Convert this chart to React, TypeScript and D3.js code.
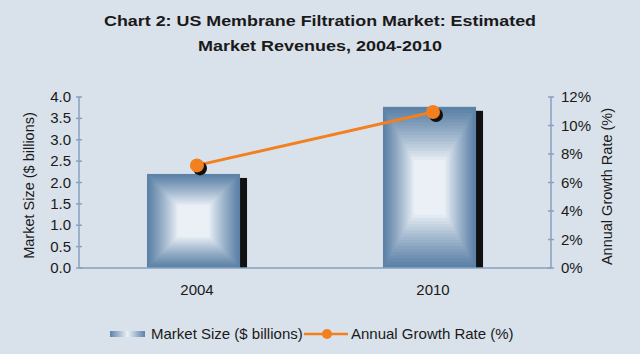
import React from 'react'
import * as d3 from 'd3'

const W = 640
const H = 354
const YEARS = ['2004', '2010']
const MARKET_SIZE = [2.2, 3.77]
const GROWTH_RATE = [7.2, 10.95]
const LEFT_TICKS = [0, 0.5, 1, 1.5, 2, 2.5, 3, 3.5, 4]
const RIGHT_TICKS = [0, 2, 4, 6, 8, 10, 12]

const BG = '#d9e1ea'
const AXIS = '#86a1c1'
const ORANGE = '#f2801f'
const EDGE = '#5d82a7'
const CENTER = '#eaf0f6'
const TEXT = '#1a1a1a'
const FONT = 'Liberation Sans, Arial, sans-serif'

const PLOT = { left: 79, right: 551, top: 97, bottom: 268 }

export default function App() {
  const x = d3.scaleBand<string>().domain(YEARS)
    .range([PLOT.left, PLOT.right]).paddingInner(0.576).paddingOuter(0.288)
  const yL = d3.scaleLinear().domain([0, 4]).range([PLOT.bottom, PLOT.top])
  const yR = d3.scaleLinear().domain([0, 12]).range([PLOT.bottom, PLOT.top])
  const bw = x.bandwidth()
  const barW = bw * 0.93
  const cx = (d: string) => (x(d) as number) + bw / 2

  const steps = 18
  const colorAt = (t: number) => d3.interpolateRgb(EDGE, CENTER)(Math.pow(t, 1.15))

  const line = d3.line<number>()
    .x((_, i) => cx(YEARS[i]))
    .y(d => yR(d))

  return (
    <svg width={W} height={H} style={{ position: 'absolute', left: 0, top: 0, background: BG }}>
      <defs>
        <linearGradient id="legGrad" x1="0" x2="1" y1="0" y2="0">
          <stop offset="0" stopColor={EDGE} />
          <stop offset="0.5" stopColor={CENTER} />
          <stop offset="1" stopColor={EDGE} />
        </linearGradient>
      </defs>
      <rect width={W} height={H} fill={BG} />

      <text x={320} y={26} textAnchor="middle" fontFamily={FONT} fontWeight="bold" fontSize={15.5} fill={TEXT}
        textLength={432} lengthAdjust="spacingAndGlyphs">
        Chart 2: US Membrane Filtration Market: Estimated
      </text>
      <text x={320} y={51} textAnchor="middle" fontFamily={FONT} fontWeight="bold" fontSize={15.5} fill={TEXT}
        textLength={244} lengthAdjust="spacingAndGlyphs">
        Market Revenues, 2004-2010
      </text>

      {/* bars with a rectangular gradient made of nested rects */}
      {YEARS.map((yr, i) => {
        const x0 = x(yr) as number
        const top = yL(MARKET_SIZE[i])
        const h = PLOT.bottom - top
        return (
          <g key={yr}>
            <rect x={x0 + barW} y={top + 4} width={bw - barW} height={h - 4} fill="#111" />
            {d3.range(steps).map(s => {
              const t = s / (steps - 1)
              const ix = t * barW * 0.33
              const iy = t * h * 0.33
              return (
                <rect key={s} x={x0 + ix} y={top + iy} width={barW - 2 * ix} height={h - 2 * iy}
                  fill={colorAt(t)} />
              )
            })}
          </g>
        )
      })}

      {/* axes */}
      <line x1={PLOT.left} x2={PLOT.left} y1={PLOT.top} y2={PLOT.bottom} stroke={AXIS} strokeWidth={1.5} />
      <line x1={PLOT.right} x2={PLOT.right} y1={PLOT.top} y2={PLOT.bottom} stroke={AXIS} strokeWidth={1.5} />
      <line x1={PLOT.left} x2={PLOT.right} y1={PLOT.bottom} y2={PLOT.bottom} stroke={AXIS} strokeWidth={1.5} />
      {LEFT_TICKS.map(t => (
        <g key={t}>
          <line x1={PLOT.left - 3} x2={PLOT.left + 3} y1={yL(t)} y2={yL(t)} stroke={AXIS} strokeWidth={1.5} />
          <text x={PLOT.left - 8} y={yL(t) + 5} textAnchor="end" fontFamily={FONT} fontSize={15} fill={TEXT}>
            {t.toFixed(1)}
          </text>
        </g>
      ))}
      {RIGHT_TICKS.map(t => (
        <g key={t}>
          <line x1={PLOT.right - 3} x2={PLOT.right + 3} y1={yR(t)} y2={yR(t)} stroke={AXIS} strokeWidth={1.5} />
          <text x={PLOT.right + 10} y={yR(t) + 5} fontFamily={FONT} fontSize={15} fill={TEXT}>
            {t}%
          </text>
        </g>
      ))}
      {YEARS.map(yr => (
        <text key={yr} x={cx(yr)} y={295} textAnchor="middle" fontFamily={FONT} fontSize={15} fill={TEXT}>
          {yr}
        </text>
      ))}
      <text transform={`translate(34,${(PLOT.top + PLOT.bottom) / 2 + 3}) rotate(-90)`} textAnchor="middle"
        fontFamily={FONT} fontSize={14.5} fill={TEXT}>
        Market Size ($ billions)
      </text>
      <text transform={`translate(612,${(PLOT.top + PLOT.bottom) / 2 + 4}) rotate(-90)`} textAnchor="middle"
        fontFamily={FONT} fontSize={14.5} fill={TEXT}>
        Annual Growth Rate (%)
      </text>

      {/* growth line */}
      <path d={line(GROWTH_RATE) || ''} fill="none" stroke={ORANGE} strokeWidth={3} />
      {YEARS.map((yr, i) => (
        <g key={yr}>
          <circle cx={cx(yr) + 3} cy={yR(GROWTH_RATE[i]) + 3} r={7} fill="#111" />
          <circle cx={cx(yr)} cy={yR(GROWTH_RATE[i])} r={7} fill={ORANGE} />
        </g>
      ))}

      {/* legend */}
      <rect x={110} y={331} width={35} height={6} fill="url(#legGrad)" />
      <text x={151} y={339} fontFamily={FONT} fontSize={15} fill={TEXT}>Market Size ($ billions)</text>
      <line x1={304} x2={348} y1={334} y2={334} stroke={ORANGE} strokeWidth={2.5} />
      <circle cx={327} cy={334} r={5} fill={ORANGE} />
      <text x={351} y={339} fontFamily={FONT} fontSize={15} fill={TEXT}>Annual Growth Rate (%)</text>
    </svg>
  )
}
